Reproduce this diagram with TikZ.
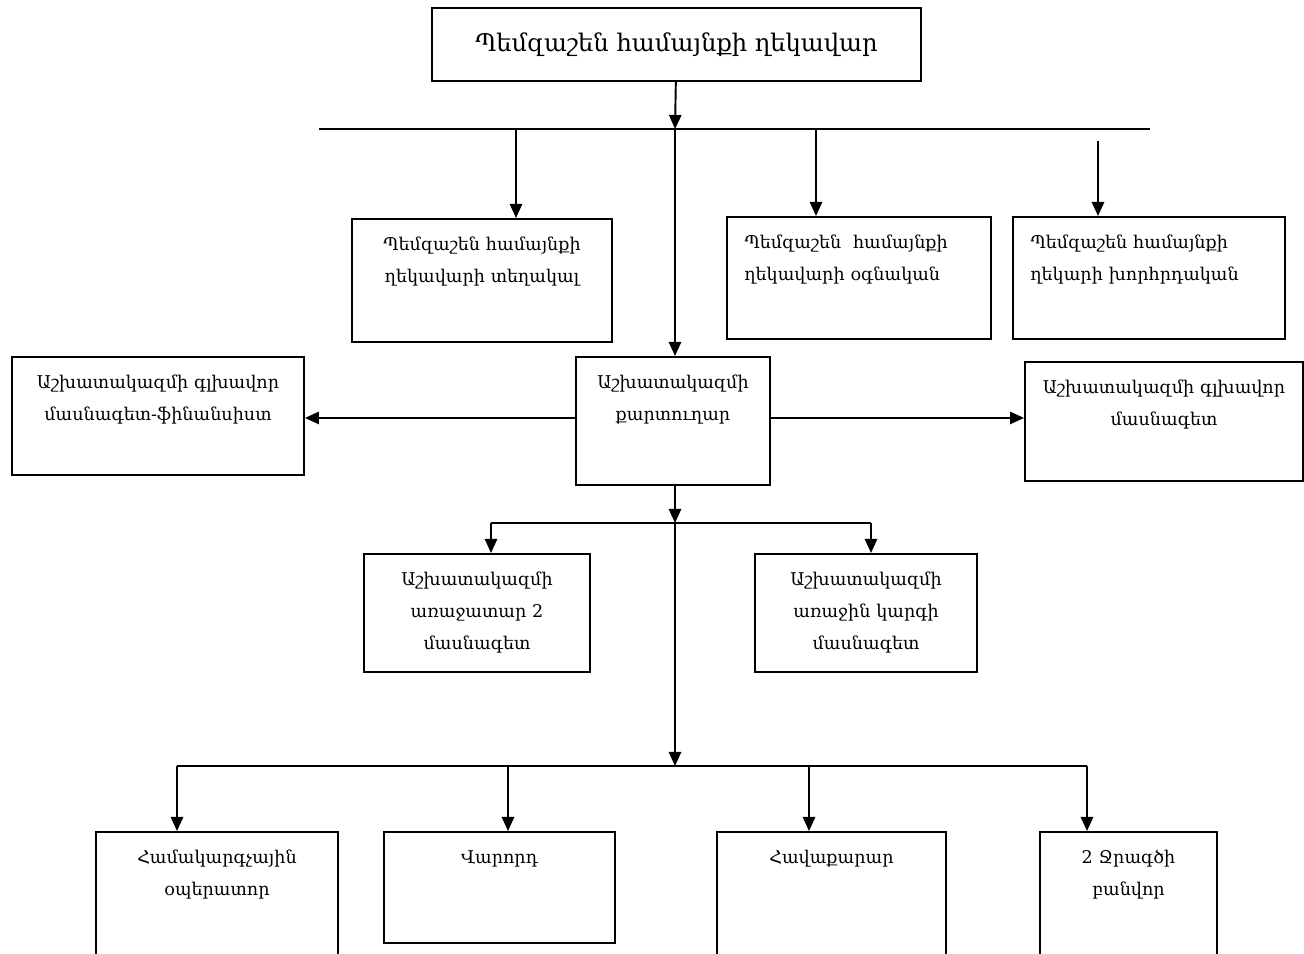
\documentclass[tikz,border=0pt]{standalone}
\usepackage{fontspec}
\setmainfont{DejaVu Serif}
\usetikzlibrary{arrows.meta}

\begin{document}
\begin{tikzpicture}
[
x=0.02cm, y=-0.02cm,
>={Triangle[length=8pt,width=7pt]},
line width=1.1pt,
head/.style={draw,minimum width=9.78cm,minimum height=1.46cm,font=\fontsize{13.8}{18}\selectfont},
post/.style 2 args={draw,anchor=north,inner xsep=0pt,inner ysep=0pt,text width=#1,align=center,
            text height=0.64cm,text depth=#2,font=\fontsize{10}{18}\selectfont},
postl/.style 2 args={post={#1}{#2},align=left,inner xsep=0.35cm},
]
\useasboundingbox (0,0) rectangle (1304,953);

%Place the nodes
\node[head] (head) at (676.5,44.5) {Պեմզաշեն համայնքի ղեկավար};

\node[post={5.2cm}{1.82cm}] (deputy) at (482,218) {Պեմզաշեն համայնքի\\ղեկավարի տեղակալ};
\node[postl={4.58cm}{1.80cm}] (assist) at (859,216) {Պեմզաշեն\ \ համայնքի\\ղեկավարի օգնական};
\node[postl={4.74cm}{1.80cm}] (advisor) at (1149,216) {Պեմզաշեն համայնքի\\ղեկարի խորհրդական};

\node[post={5.84cm}{1.72cm}] (fin) at (158,356) {Աշխատակազմի գլխավոր\\մասնագետ-ֆինանսիստ};
\node[post={3.88cm}{1.92cm}] (secr) at (673,356) {Աշխատակազմի\\քարտուղար};
\node[post={5.56cm}{1.74cm}] (spec) at (1164,361) {Աշխատակազմի գլխավոր\\մասնագետ};

\node[post={4.52cm}{1.72cm}] (lead) at (477,553) {Աշխատակազմի\\առաջատար 2\\մասնագետ};
\node[post={4.44cm}{1.72cm}] (first) at (866,553) {Աշխատակազմի\\առաջին կարգի\\մասնագետ};

\node[post={4.84cm}{3cm}] (oper) at (217,831) {Համակարգչային\\օպերատոր};
\node[post={4.62cm}{1.58cm}] (driver) at (499.5,831) {Վարորդ};
\node[post={4.58cm}{3cm}] (clean) at (831.5,831) {Հավաքարար};
\node[post={3.54cm}{3cm}] (pipe) at (1128.5,831) {2 Ջրագծի\\բանվոր};

%Bus points
\coordinate (busA) at (675,129);
\coordinate (busAl) at (319,129);
\coordinate (busAr) at (1150,129);
\coordinate (toDeputy) at (516,129);
\coordinate (toAssist) at (816,129);
\coordinate (toAdvisor) at (1098,141);

\coordinate (busB) at (675,523);
\coordinate (busBl) at (491,523);
\coordinate (busBr) at (871,523);

\coordinate (busC) at (675,766);
\coordinate (busCl) at (177,766);
\coordinate (busCr) at (1087,766);
\coordinate (toDriver) at (508,766);
\coordinate (toClean) at (809,766);

%Draw the connections
\draw[->] (head) -- (busA);
\draw (busAl) -- (busAr);
\draw[->] (toDeputy) -- (toDeputy |- deputy.north);
\draw[->] (toAssist) -- (toAssist |- assist.north);
\draw[->] (toAdvisor) -- (toAdvisor |- advisor.north);
\draw[->] (busA) -- (busA |- secr.north);

\draw[->] ([yshift=0.06cm]secr.west) -- ([yshift=0.06cm]secr.west -| fin.east);
\draw[->] ([yshift=0.06cm]secr.east) -- ([yshift=0.06cm]secr.east -| spec.west);

\draw[->] (busB |- secr.south) -- (busB);
\draw (busBl) -- (busBr);
\draw[->] (busBl) -- (busBl |- lead.north);
\draw[->] (busBr) -- (busBr |- first.north);

\draw[->] (busB) -- (busC);
\draw (busCl) -- (busCr);
\draw[->] (busCl) -- (busCl |- oper.north);
\draw[->] (toDriver) -- (toDriver |- driver.north);
\draw[->] (toClean) -- (toClean |- clean.north);
\draw[->] (busCr) -- (busCr |- pipe.north);
\end{tikzpicture}
\end{document}
